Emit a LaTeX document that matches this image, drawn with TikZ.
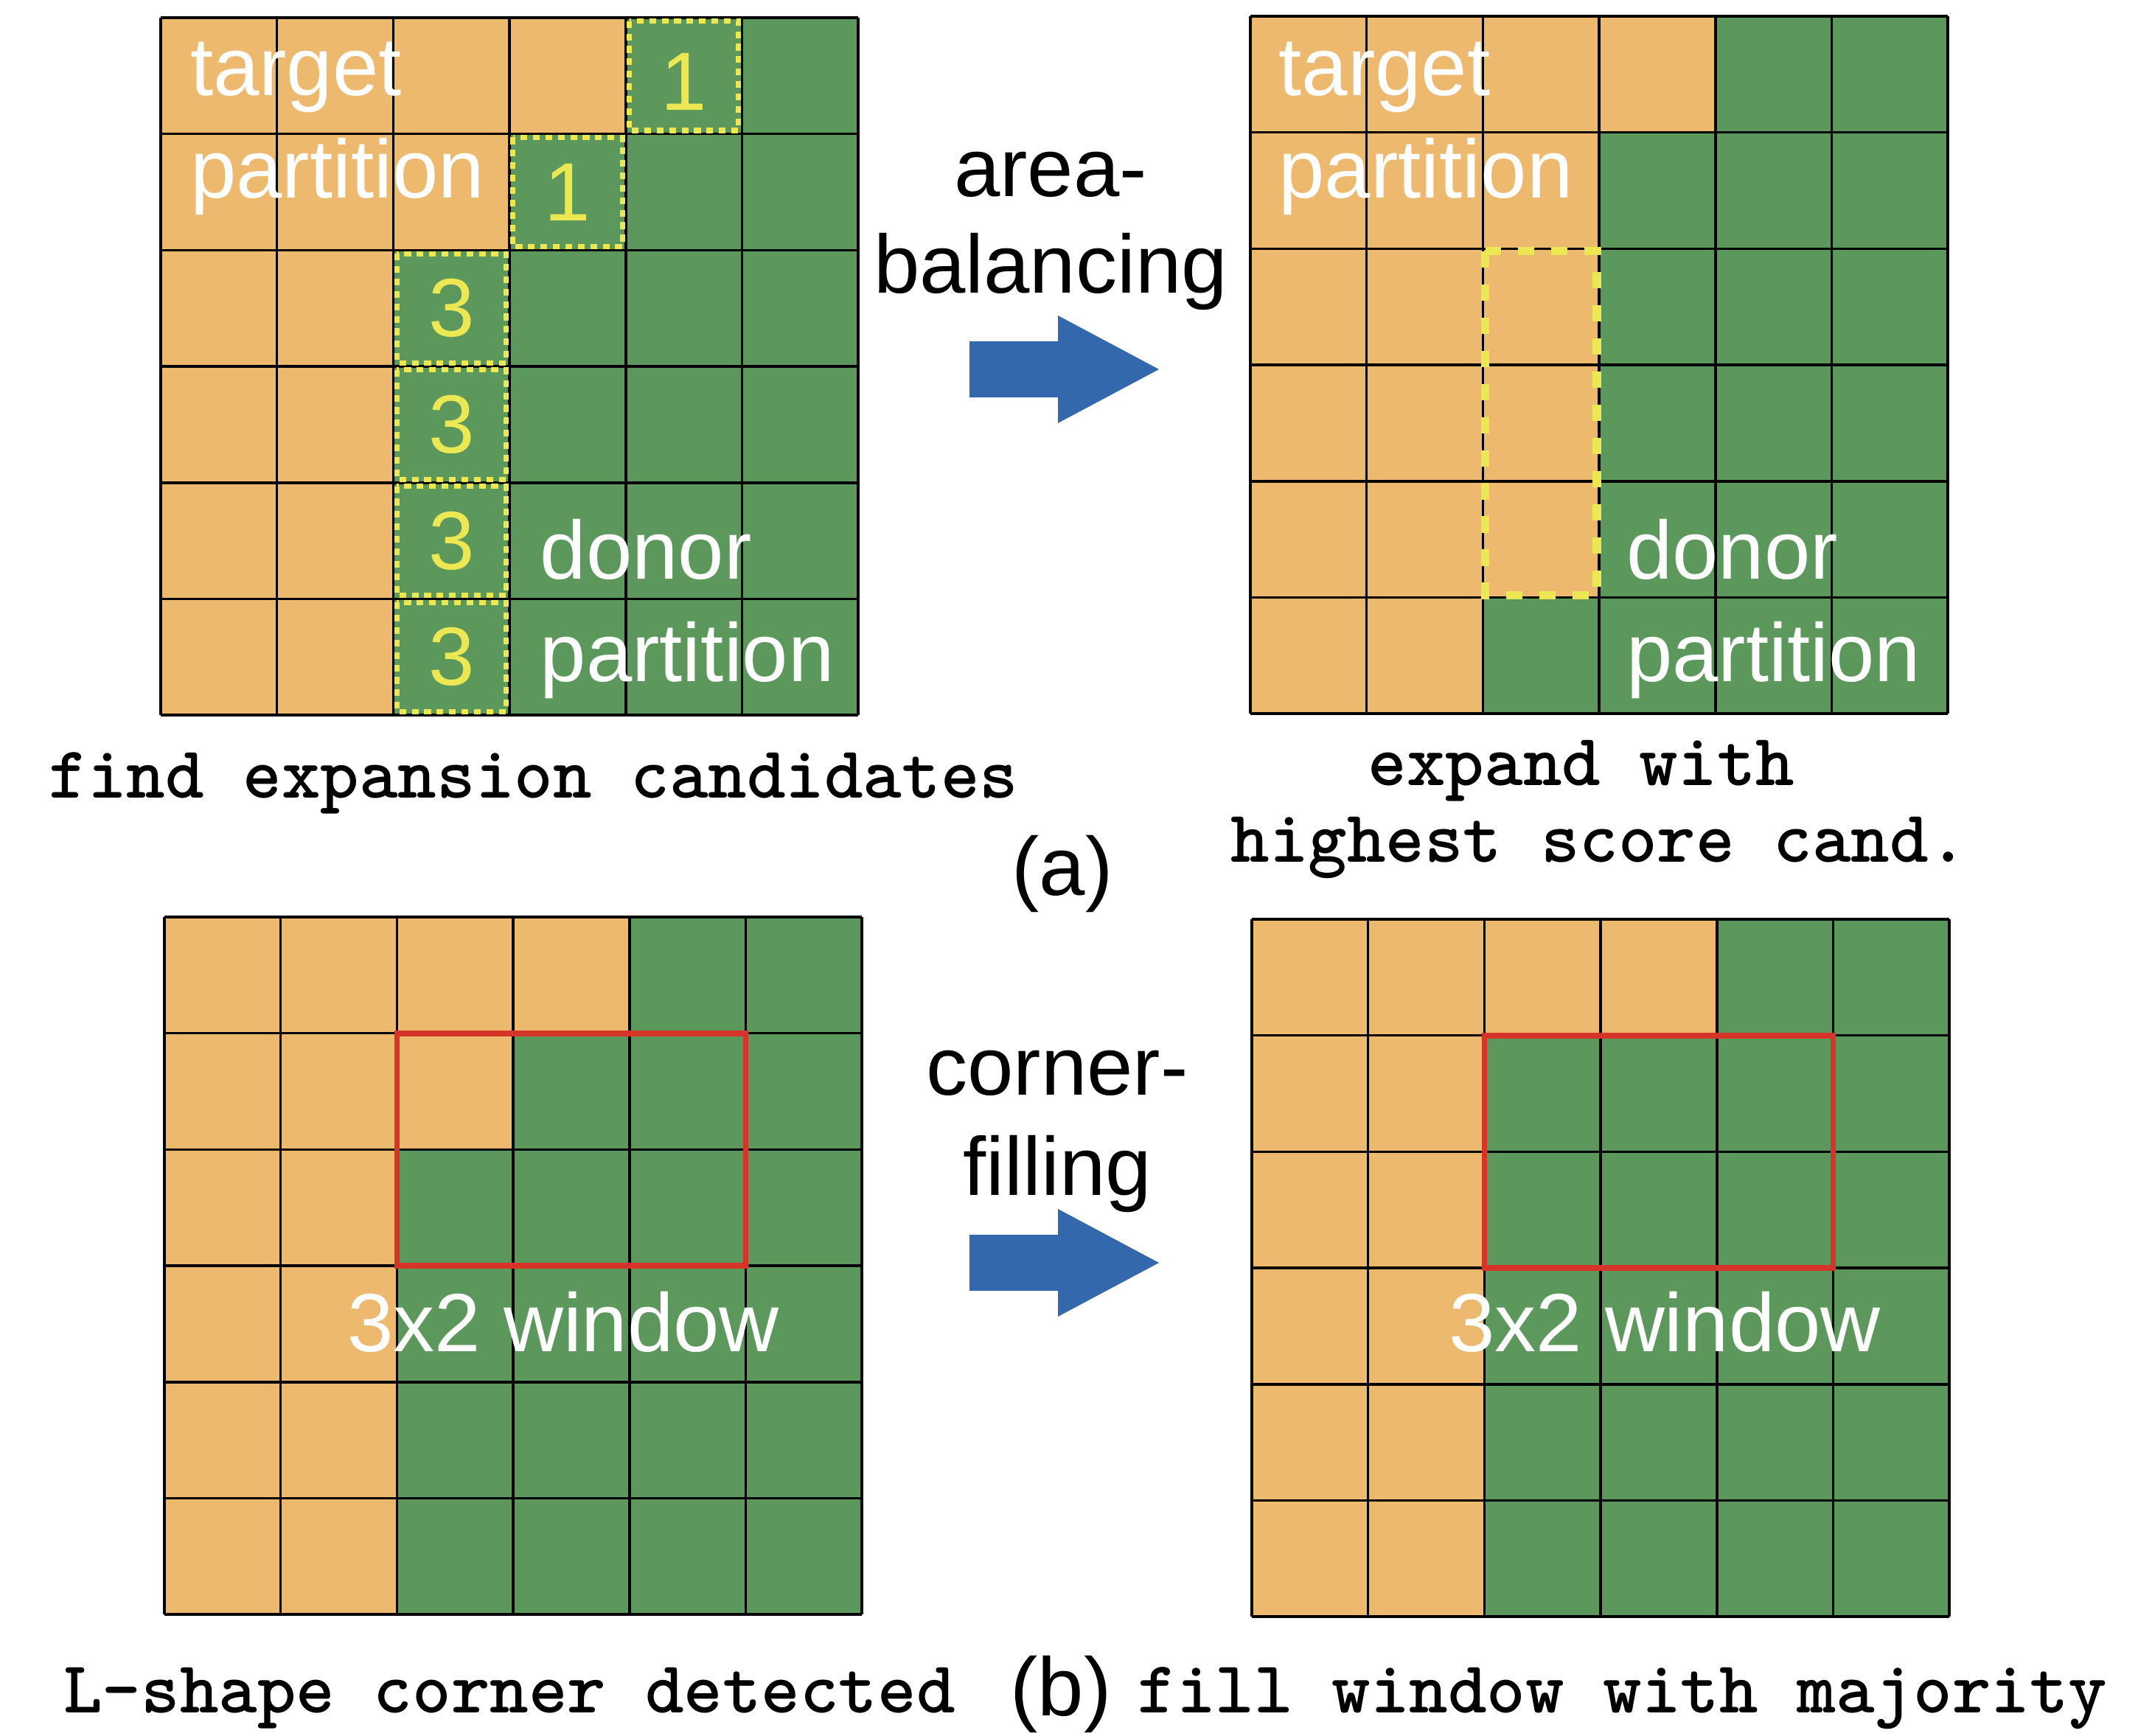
\documentclass[tikz,border=0pt]{standalone}
\usepackage{fontspec}
\setmainfont{Liberation Sans}
\usetikzlibrary{positioning}
\definecolor{cellorange}{RGB}{237,185,110}
\definecolor{cellgreen}{RGB}{92,151,92}
\definecolor{arrowblue}{RGB}{52,104,172}
\definecolor{winred}{RGB}{214,52,40}
\definecolor{candyellow}{RGB}{236,232,84}
\tikzset{
	gridline/.style = {line width=1pt, black},
	candbox/.style = {draw=candyellow, line width=2pt, dash pattern=on 2.6pt off 2.2pt},
	bestbox/.style = {draw=candyellow, line width=3.2pt, dash pattern=on 6.3pt off 6.5pt},
	window/.style = {draw=winred, line width=2.2pt},
	celltext/.style = {text=white, font=\fontsize{31.9}{38}\selectfont, inner sep=0pt, anchor=base west},
	score/.style = {text=candyellow, font=\fontsize{31.9}{38}\selectfont, inner sep=0pt},
	midtext/.style = {font=\fontsize{31.9}{38}\selectfont, inner sep=0pt, anchor=base},
	caption/.style = {font=\fontsize{28.5}{30}\ttfamily\bfseries, inner sep=0pt, anchor=base},
	blockarrow/.style = {fill=arrowblue}
}
\newcommand{\cellgrid}{%
	\foreach \k in {0,...,6} {\draw[gridline] (\k,0) -- (\k,6); \draw[gridline] (0,\k) -- (6,\k);}}
\newcommand{\fatarrow}[1]{%
	\fill[blockarrow] (#1) ++(0,0.38) -- ++(1.2,0) -- ++(0,0.35) -- ++(1.37,-0.73)
		-- ++(-1.37,-0.73) -- ++(0,0.35) -- ++(-1.2,0) -- cycle;}

\begin{document}
\begin{tikzpicture}
	\useasboundingbox (0,0) rectangle (29.19,-23.54);

	% (a) find expansion candidates
	\begin{scope}[shift={(2.18,-0.24)}, x=1.577cm, y=-1.577cm]
		\fill[cellgreen] (0,0) rectangle (6,6);
		\fill[cellorange] (0,0) -| (4,1) -| (3,2) -| (2,6) -- (0,6) -- cycle;
		\cellgrid
		\draw[candbox] (4.03,0.03) rectangle (4.97,0.97);
		\draw[candbox] (3.03,1.03) rectangle (3.97,1.97);
		\foreach \r in {2,...,5} \draw[candbox] (2.03,\r+0.03) rectangle (2.97,\r+0.97);
		\node[score] (sa) at (4.5,0.55) {1};
		\node[score] (sb) at (3.5,1.5) {1};
		\foreach \r in {2,...,5} \node[score] (sc\r) at (2.5,\r+0.5) {3};
		\node[celltext] (tgtA) at (0.25,0.67) {target};
		\node[celltext] (tgtB) at ([yshift=-1.39cm]tgtA.base west) {partition};
		\node[celltext] (dnrA) at (3.26,4.83) {donor};
		\node[celltext] (dnrB) at ([yshift=-1.39cm]dnrA.base west) {partition};
	\end{scope}

	% (a) expand with best candidate
	\begin{scope}[shift={(16.96,-0.22)}, x=1.577cm, y=-1.577cm]
		\fill[cellgreen] (0,0) rectangle (6,6);
		\fill[cellorange] (0,0) -| (4,1) -| (3,5) -| (2,6) -- (0,6) -- cycle;
		\cellgrid
		\draw[bestbox] (2.02,2.02) rectangle (2.98,4.98);
		\node[celltext] (tgtC) at (0.24,0.68) {target};
		\node[celltext] (tgtD) at ([yshift=-1.39cm]tgtC.base west) {partition};
		\node[celltext] (dnrC) at (3.23,4.84) {donor};
		\node[celltext] (dnrD) at ([yshift=-1.39cm]dnrC.base west) {partition};
	\end{scope}

	% (b) corner detected
	\begin{scope}[shift={(2.23,-12.44)}, x=1.577cm, y=-1.577cm]
		\fill[cellgreen] (0,0) rectangle (6,6);
		\fill[cellorange] (0,0) -| (4,1) -| (3,2) -| (2,6) -- (0,6) -- cycle;
		\cellgrid
		\draw[window] (2,1) rectangle (5,3);
		\node[celltext] (winA) at (1.57,3.74) {3x2 window};
	\end{scope}

	% (b) window filled
	\begin{scope}[shift={(16.98,-12.47)}, x=1.577cm, y=-1.577cm]
		\fill[cellgreen] (0,0) rectangle (6,6);
		\fill[cellorange] (0,0) -| (4,1) -| (2,6) -- (0,6) -- cycle;
		\cellgrid
		\draw[window] (2,1) rectangle (5,3);
		\node[celltext] (winB) at (1.69,3.72) {3x2 window};
	\end{scope}

	% steps between the grids
	\node[midtext] (areaA) at (14.25,-2.66) {area-};
	\node[midtext] (areaB) at ([yshift=-1.31cm]areaA.base) {balancing};
	\coordinate (arrA) at (13.15,-5.01);
	\fatarrow{arrA}
	\node[midtext] (cornA) at (14.34,-14.85) {corner-};
	\node[midtext] (cornB) at ([yshift=-1.36cm]cornA.base) {filling};
	\coordinate (arrB) at (13.15,-17.13);
	\fatarrow{arrB}

	% captions
	\node[caption] (capA) at (7.24,-10.82) {find expansion candidates};
	\node[caption] (capB) at (21.45,-10.65) {expand with};
	\node[caption] (capC) at ([xshift=0.24cm,yshift=-1.04cm]capB.base) {highest score cand.};
	\node[midtext] (taga) at (14.41,-12.14) {(a)};
	\node[caption] (capD) at (6.91,-23.23) {L-shape corner detected};
	\node[midtext] (tagb) at (14.39,-23.27) {(b)};
	\node[caption] (capE) at (22.01,-23.23) {fill window with majority};
\end{tikzpicture}
\end{document}
